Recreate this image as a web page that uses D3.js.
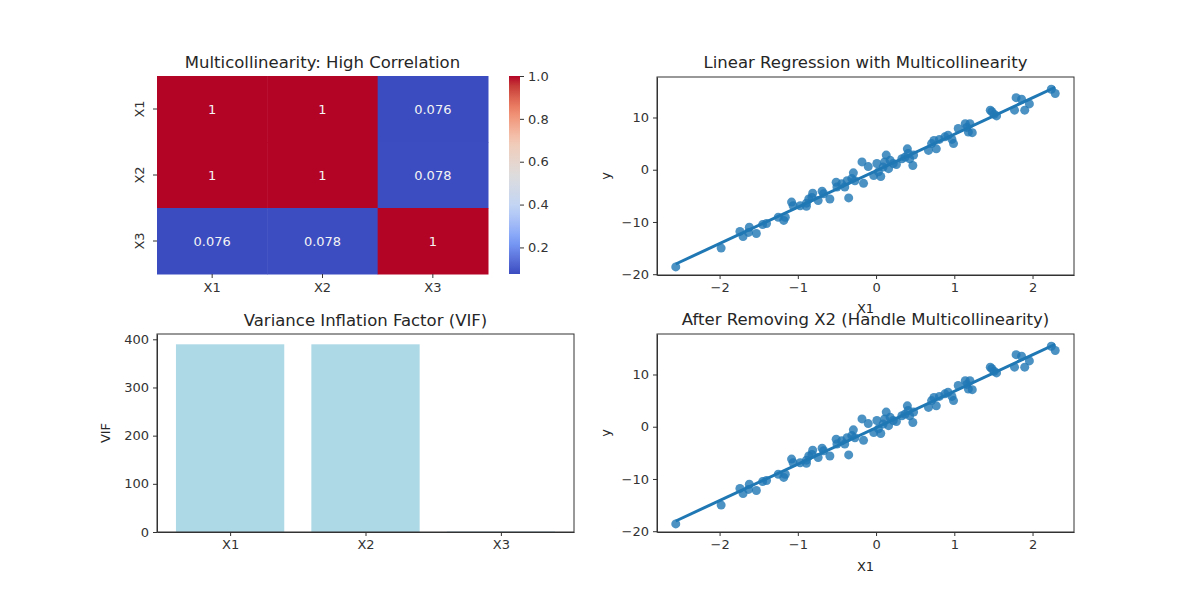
<!DOCTYPE html>
<html>
<head>
<meta charset="utf-8">
<script src="https://cdn.jsdelivr.net/npm/d3@7"></script>
<style>
  body { margin: 0; background: #fff; }
  svg text { font-family: "DejaVu Sans", sans-serif; fill: #262626; }
  .axis path, .axis line { stroke: #333; }
  .axis text { font-size: 13px; fill: #333; }
  .title { font-size: 16.5px; text-anchor: middle; }
  .label { font-size: 13px; text-anchor: middle; }
</style>
</head>
<body>
<svg id="chart" width="1200" height="600"></svg>
<script>
// ---- data ----
const features = ['X1', 'X2', 'X3'];
const corrMatrix = [
  [1, 1, 0.076],
  [1, 1, 0.078],
  [0.076, 0.078, 1]
];
const corrLabels = [
  ['1', '1', '0.076'],
  ['1', '1', '0.078'],
  ['0.076', '0.078', '1']
];
const colorbarTicks = [0.2, 0.4, 0.6, 0.8, 1.0];

const vifValues = [389.6, 389.6, 1.0];
const vifTicks = [0, 100, 200, 300, 400];

const x1Values = [
  -2.56, -1.98, -1.74, -1.70, -1.62, -1.63, -1.53, -1.45, -1.40, -1.25,
  -1.18, -1.16, -1.08, -1.06, -0.97, -0.89, -0.89, -0.86, -0.82, -0.81,
  -0.74, -0.69, -0.67, -0.59, -0.51, -0.50, -0.44, -0.40, -0.37, -0.35,
  -0.31, -0.29, -0.27, -0.18, -0.16, -0.10, -0.03, 0.01, 0.03, 0.06,
  0.09, 0.11, 0.13, 0.16, 0.18, 0.22, 0.26, 0.33, 0.37, 0.40,
  0.41, 0.43, 0.47, 0.48, 0.67, 0.71, 0.74, 0.77, 0.81, 0.88,
  0.92, 0.97, 0.99, 1.05, 1.14, 1.16, 1.18, 1.20, 1.23, 1.46,
  1.48, 1.51, 1.54, 1.77, 1.79, 1.86, 1.90, 1.96, 2.24, 2.29
];
const yValues = [
  -18.6, -15.0, -11.8, -12.8, -11.0, -12.0, -12.2, -10.5, -10.3, -9.1,
  -9.7, -9.1, -6.2, -6.9, -6.9, -6.4, -7.0, -5.6, -5.3, -4.5,
  -5.9, -4.1, -4.6, -5.6, -2.4, -3.3, -2.7, -3.3, -2.1, -5.4,
  -1.7, -0.6, -2.1, 1.5, -2.6, 0.6, -1.1, 1.2, -0.4, -1.3,
  0.5, 1.5, 2.8, 0.2, 1.8, 1.2, 1.0, 2.1, 2.4, 4.0,
  3.1, 2.1, 0.8, 2.8, 3.7, 5.0, 5.6, 4.0, 5.8, 6.3,
  6.6, 5.8, 5.0, 7.9, 8.8, 8.1, 7.2, 8.8, 7.1, 11.4,
  11.1, 10.6, 10.3, 11.4, 13.8, 13.5, 11.4, 12.6, 15.4, 14.6
];
const scatterXTicks = [-2, -1, 0, 1, 2];
const scatterYTicks = [-20, -10, 0, 10];

const svg = d3.select('#chart');

// coolwarm colormap approximation
const coolwarm = d3.piecewise(d3.interpolateLab,
  ['#3b4cc0', '#7b9ff9', '#c0d4f5', '#dddcdc', '#f2cbb7', '#ee8468', '#b40426']);
const colorScale = d3.scaleSequential(coolwarm).domain([0.076, 1]);

// ---- Heatmap ----
function drawHeatmap() {
  const box = {x0: 157, x1: 488, y0: 76, y1: 274};
  const x = d3.scaleBand().domain(features).range([box.x0, box.x1]);
  const y = d3.scaleBand().domain(features).range([box.y0, box.y1]);
  const g = svg.append('g');

  const cells = [];
  corrMatrix.forEach((row, i) => row.forEach((v, j) =>
    cells.push({r: features[i], c: features[j], v: v, label: corrLabels[i][j]})));

  g.selectAll('rect.cell').data(cells).enter().append('rect')
      .attr('class', 'cell')
      .attr('x', d => x(d.c))
      .attr('y', d => y(d.r))
      .attr('width', x.bandwidth() + 0.5)
      .attr('height', y.bandwidth() + 0.5)
      .attr('fill', d => colorScale(d.v));

  g.selectAll('text.annot').data(cells).enter().append('text')
      .attr('class', 'annot')
      .attr('x', d => x(d.c) + x.bandwidth() / 2)
      .attr('y', d => y(d.r) + y.bandwidth() / 2)
      .attr('dy', '0.35em')
      .attr('text-anchor', 'middle')
      .style('font-size', '13px')
      .style('fill', '#f4f4f4')
      .text(d => d.label);

  g.append('g').attr('class', 'axis')
      .attr('transform', `translate(0,${box.y1})`)
      .call(d3.axisBottom(x).tickSize(4).tickPadding(5))
      .call(a => a.select('.domain').remove());

  const ya = g.append('g').attr('class', 'axis')
      .attr('transform', `translate(${box.x0},0)`)
      .call(d3.axisLeft(y).tickSize(4).tickPadding(5))
      .call(a => a.select('.domain').remove());
  ya.selectAll('.tick text')
      .attr('text-anchor', 'middle')
      .attr('transform', 'rotate(-90)')
      .attr('x', 0)
      .attr('dy', 0)
      .attr('y', -13);

  svg.append('text').attr('class', 'title')
      .attr('x', (box.x0 + box.x1) / 2).attr('y', 68)
      .text('Multicollinearity: High Correlation');

  // colorbar
  const cb = {x0: 509, x1: 520, y0: 76, y1: 274};
  const cbScale = d3.scaleLinear().domain([0.076, 1]).range([cb.y1, cb.y0]);
  const grad = svg.append('defs').append('linearGradient')
      .attr('id', 'cbgrad').attr('x1', 0).attr('y1', 1).attr('x2', 0).attr('y2', 0);
  d3.range(0, 1.0001, 0.05).forEach(t => {
    grad.append('stop').attr('offset', t)
        .attr('stop-color', colorScale(0.076 + t * (1 - 0.076)));
  });
  svg.append('rect')
      .attr('x', cb.x0).attr('y', cb.y0)
      .attr('width', cb.x1 - cb.x0).attr('height', cb.y1 - cb.y0)
      .attr('fill', 'url(#cbgrad)');
  svg.append('g').attr('class', 'axis')
      .attr('transform', `translate(${cb.x1},0)`)
      .call(d3.axisRight(cbScale).tickValues(colorbarTicks)
        .tickFormat(d3.format('.1f')).tickSize(4).tickPadding(4))
      .call(a => a.select('.domain').remove());
}

// ---- Scatter with regression line ----
function drawScatter(box, title, xLabelY) {
  const x = d3.scaleLinear().domain([-2.8, 2.53]).range([box.x0, box.x1]);
  const y = d3.scaleLinear().domain([-20.15, 17.75]).range([box.y1, box.y0]);
  const g = svg.append('g');

  const pts = x1Values.map((v, i) => ({x: v, y: yValues[i]}));

  // least squares fit like seaborn regplot
  const mx = d3.mean(pts, d => d.x), my = d3.mean(pts, d => d.y);
  const slope = d3.sum(pts, d => (d.x - mx) * (d.y - my)) / d3.sum(pts, d => (d.x - mx) ** 2);
  const icpt = my - slope * mx;
  const ext = d3.extent(pts, d => d.x);

  g.selectAll('circle').data(pts).enter().append('circle')
      .attr('cx', d => x(d.x))
      .attr('cy', d => y(d.y))
      .attr('r', 4.5)
      .attr('fill', '#1f77b4')
      .attr('fill-opacity', 0.8);

  g.append('path')
      .datum(ext.map(v => ({x: v, y: icpt + slope * v})))
      .attr('d', d3.line().x(d => x(d.x)).y(d => y(d.y)))
      .attr('stroke', '#1f77b4')
      .attr('stroke-width', 3)
      .attr('fill', 'none');

  g.append('g').attr('class', 'axis')
      .attr('transform', `translate(0,${box.y1})`)
      .call(d3.axisBottom(x).tickValues(scatterXTicks).tickFormat(d3.format('d'))
        .tickSize(4).tickPadding(4).tickSizeOuter(0));
  g.append('g').attr('class', 'axis')
      .attr('transform', `translate(${box.x0},0)`)
      .call(d3.axisLeft(y).tickValues(scatterYTicks).tickFormat(d3.format('d'))
        .tickSize(4).tickPadding(4).tickSizeOuter(0));
  g.append('rect')
      .attr('x', box.x0).attr('y', box.y0)
      .attr('width', box.x1 - box.x0).attr('height', box.y1 - box.y0)
      .attr('fill', 'none').attr('stroke', '#333');

  svg.append('text').attr('class', 'title')
      .attr('x', (box.x0 + box.x1) / 2).attr('y', box.y0 - 9)
      .text(title);
  svg.append('text').attr('class', 'label')
      .attr('x', (box.x0 + box.x1) / 2).attr('y', xLabelY)
      .text('X1');
  svg.append('text').attr('class', 'label')
      .attr('transform', `translate(${box.x0 - 52},${(box.y0 + box.y1) / 2}) rotate(-90)`)
      .attr('dy', '0.35em')
      .text('y');
}

// ---- VIF bar chart ----
function drawBars() {
  const box = {x0: 157, x1: 574, y0: 334, y1: 532};
  const x = d3.scaleLinear().domain([-0.54, 2.54]).range([box.x0, box.x1]);
  const y = d3.scaleLinear().domain([0, 411]).range([box.y1, box.y0]);
  const g = svg.append('g');
  const barW = x(0.8) - x(0);

  g.selectAll('rect.bar').data(vifValues).enter().append('rect')
      .attr('class', 'bar')
      .attr('x', (d, i) => x(i) - barW / 2)
      .attr('y', d => y(d))
      .attr('width', barW)
      .attr('height', d => y(0) - y(d))
      .attr('fill', '#add8e6');

  g.append('g').attr('class', 'axis')
      .attr('transform', `translate(0,${box.y1})`)
      .call(d3.axisBottom(x).tickValues(d3.range(features.length))
        .tickFormat(i => features[i]).tickSize(4).tickPadding(4).tickSizeOuter(0));
  g.append('g').attr('class', 'axis')
      .attr('transform', `translate(${box.x0},0)`)
      .call(d3.axisLeft(y).tickValues(vifTicks).tickSize(4).tickPadding(4).tickSizeOuter(0));
  g.append('rect')
      .attr('x', box.x0).attr('y', box.y0)
      .attr('width', box.x1 - box.x0).attr('height', box.y1 - box.y0)
      .attr('fill', 'none').attr('stroke', '#333');

  svg.append('text').attr('class', 'title')
      .attr('x', (box.x0 + box.x1) / 2).attr('y', box.y0 - 8)
      .text('Variance Inflation Factor (VIF)');
  svg.append('text').attr('class', 'label')
      .attr('transform', `translate(105,${(box.y0 + box.y1) / 2}) rotate(-90)`)
      .attr('dy', '0.35em')
      .text('VIF');
}

drawHeatmap();
drawScatter({x0: 657, x1: 1074, y0: 77, y1: 275}, 'Linear Regression with Multicollinearity', 313);
drawBars();
drawScatter({x0: 657, x1: 1074, y0: 334, y1: 532}, 'After Removing X2 (Handle Multicollinearity)', 571);
</script>
</body>
</html>
